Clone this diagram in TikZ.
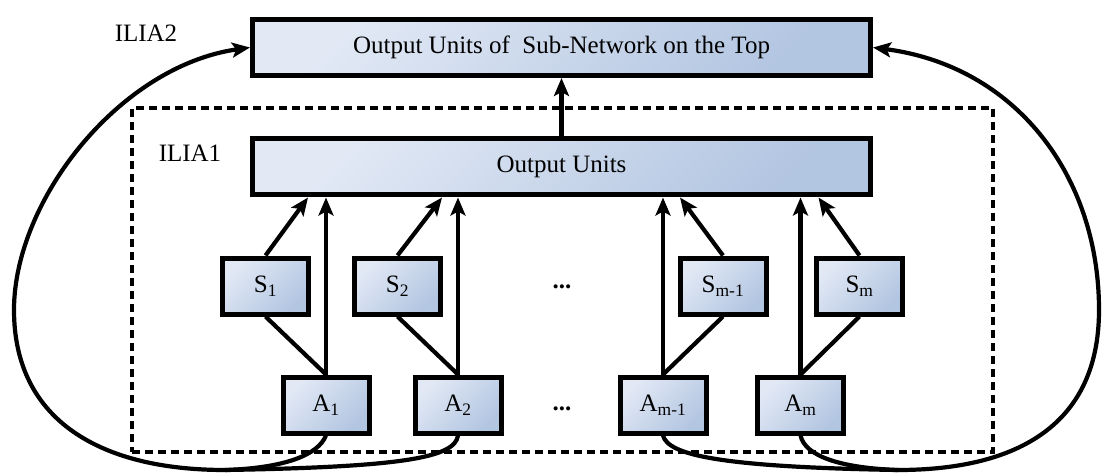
\documentclass[tikz,border=0pt]{standalone}
\usepackage{fontspec}
\setmainfont{Liberation Serif}
\usetikzlibrary{arrows.meta}
\definecolor{boxlight}{RGB}{226,233,245}
\definecolor{boxdark}{RGB}{178,197,225}
\begin{document}
\begin{tikzpicture}[x=1pt,y=-1pt,
  txt/.style={font=\fontsize{25}{30}\selectfont},
  box/.style={txt, draw=black, line width=5pt, top color=boxlight, bottom color=boxdark, shading angle=45, inner sep=0pt},
  small/.style={box, minimum width=86pt, minimum height=56pt},
  wide/.style={box, minimum width=618pt, minimum height=56pt},
  dashedbox/.style={draw=black, line width=4.6pt, dash pattern=on 8pt off 5pt, inner sep=0pt},
  conn/.style={line width=4.2pt},
  arr/.style={conn, -{Stealth[length=18pt,width=15pt,inset=4pt]}}]
\useasboundingbox (0,0) rectangle (1103,473);

\node[dashedbox, minimum width=861pt, minimum height=344pt] (frame) at (562.5,280) {};

\node[wide] (top) at (561.5,47.5) {Output Units of\ \ Sub-Network on the Top};
\node[wide] (out) at (561.5,167) {Output Units};

\node[txt] (ilia2) at (146,33) {ILIA2};
\node[txt] (ilia1) at (190,153) {ILIA1};

\node[small] (S1) at (265.5,286) {S\textsubscript{1}};
\node[small] (S2) at (397.5,286) {S\textsubscript{2}};
\node[small] (Sm1) at (723,286) {S\textsubscript{m-1}};
\node[small] (Sm) at (859.5,286) {S\textsubscript{m}};

\node[small] (A1) at (326,405) {A\textsubscript{1}};
\node[small] (A2) at (458,405) {A\textsubscript{2}};
\node[small] (Am1) at (663,405) {A\textsubscript{m-1}};
\node[small] (Am) at (800.5,405) {A\textsubscript{m}};

\node[txt] (dotsS) at (562,287) {\textbf{...}};
\node[txt] (dotsA) at (562,409) {\textbf{...}};

\draw[arr] (out.north) -- (top.south);

\draw[arr] (A1.north) -- (A1.north |- out.south);
\draw[arr] (A2.north) -- (A2.north |- out.south);
\draw[arr] (Am1.north) -- (Am1.north |- out.south);
\draw[arr] (Am.north) -- (Am.north |- out.south);

\draw[arr] (S1.north) -- ([xshift=-18pt]A1.north |- out.south);
\draw[arr] (S2.north) -- ([xshift=-16pt]A2.north |- out.south);
\draw[arr] (Sm1.north) -- ([xshift=17pt]Am1.north |- out.south);
\draw[arr] (Sm.north) -- ([xshift=18pt]Am.north |- out.south);

\draw[conn] (S1.south) -- (A1.north);
\draw[conn] (S2.south) -- (A2.north);
\draw[conn] (Sm1.south) -- (Am1.north);
\draw[conn] (Sm.south) -- (Am.north);

\coordinate (jl) at (225,470);
\coordinate (jr) at (898,470);
\draw[conn] (A1.south) .. controls (318,455) and (285,468) .. (jl);
\draw[conn] (A2.south) .. controls (455,458) and (400,467) .. (jl);
\draw[arr] (jl) .. controls (100,470) and (14,420) .. (14,310) .. controls (14,200) and (120,66) .. (top.west);

\draw[conn] (Am1.south) .. controls (668,455) and (720,467) .. (jr);
\draw[conn] (Am.south) .. controls (805,456) and (840,468) .. (jr);
\draw[arr] (jr) .. controls (1010,470) and (1099,430) .. (1099,310) .. controls (1099,175) and (1015,66) .. (top.east);
\end{tikzpicture}
\end{document}
